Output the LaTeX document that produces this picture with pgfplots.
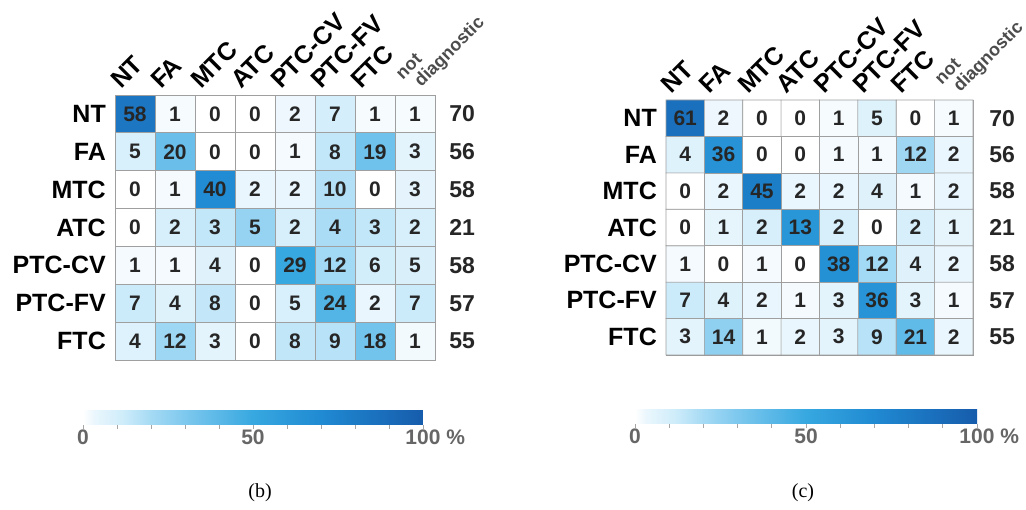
\documentclass[border=0pt]{standalone}
\usepackage{fontspec}
\setmainfont{Liberation Sans}
\newfontfamily\capfont{Liberation Serif}
\usepackage{pgfplots}
\pgfplotsset{compat=1.18}
\usepackage{pgfplotstable}
\usetikzlibrary{calc}

% confusion matrices: x = predicted class, y = true class (0 = FTC ... 6 = NT), c = count, t = row total
\pgfplotstableread{
x y c t
0 0 4 55
1 0 12 55
2 0 3 55
3 0 0 55
4 0 8 55
5 0 9 55
6 0 18 55
7 0 1 55
0 1 7 57
1 1 4 57
2 1 8 57
3 1 0 57
4 1 5 57
5 1 24 57
6 1 2 57
7 1 7 57
0 2 1 58
1 2 1 58
2 2 4 58
3 2 0 58
4 2 29 58
5 2 12 58
6 2 6 58
7 2 5 58
0 3 0 21
1 3 2 21
2 3 3 21
3 3 5 21
4 3 2 21
5 3 4 21
6 3 3 21
7 3 2 21
0 4 0 58
1 4 1 58
2 4 40 58
3 4 2 58
4 4 2 58
5 4 10 58
6 4 0 58
7 4 3 58
0 5 5 56
1 5 20 56
2 5 0 56
3 5 0 56
4 5 1 56
5 5 8 56
6 5 19 56
7 5 3 56
0 6 58 70
1 6 1 70
2 6 0 70
3 6 0 70
4 6 2 70
5 6 7 70
6 6 1 70
7 6 1 70
}\matB

\pgfplotstableread{
x y c t
0 0 3 55
1 0 14 55
2 0 1 55
3 0 2 55
4 0 3 55
5 0 9 55
6 0 21 55
7 0 2 55
0 1 7 57
1 1 4 57
2 1 2 57
3 1 1 57
4 1 3 57
5 1 36 57
6 1 3 57
7 1 1 57
0 2 1 58
1 2 0 58
2 2 1 58
3 2 0 58
4 2 38 58
5 2 12 58
6 2 4 58
7 2 2 58
0 3 0 21
1 3 1 21
2 3 2 21
3 3 13 21
4 3 2 21
5 3 0 21
6 3 2 21
7 3 1 21
0 4 0 58
1 4 2 58
2 4 45 58
3 4 2 58
4 4 2 58
5 4 4 58
6 4 1 58
7 4 2 58
0 5 4 56
1 5 36 56
2 5 0 56
3 5 0 56
4 5 1 56
5 5 1 56
6 5 12 56
7 5 2 56
0 6 61 70
1 6 2 70
2 6 0 70
3 6 0 70
4 6 1 70
5 6 5 70
6 6 0 70
7 6 1 70
}\matC

% row totals (same for both matrices)
\pgfplotstableread{
y c
0 55
1 57
2 58
3 21
4 58
5 56
6 70
}\rowtot

\newcommand\notdiag{\hspace{8pt}\raisebox{-12.7pt}{\bfseries\fontsize{18}{17}\selectfont\color{black!70}%
  \begin{tabular}[b]{@{}l@{}}not\\\hspace{8pt}diagnostic\end{tabular}}}

\pgfplotsset{
  confmat/.style={
    colormap={bluecm}{rgb255(0pt)=(255,255,255) rgb255(3pt)=(236,247,253) rgb255(12pt)=(205,236,250)
      rgb255(20pt)=(165,218,244) rgb255(30pt)=(125,200,238) rgb255(50pt)=(55,168,224)
      rgb255(70pt)=(32,138,210) rgb255(100pt)=(22,92,172)},
    point meta min=0, point meta max=100,
    anchor=south west, scale only axis,
    xmin=-0.5, xmax=7.5, ymin=-0.5, ymax=6.5,
    axis line style={draw=gray!80, line width=0.7pt},
    major tick length=0pt,
    xtick={0,...,7}, ytick={0,...,6},
    xticklabel pos=right,
    xticklabels={NT,FA,MTC,ATC,PTC-CV,PTC-FV,FTC,{\notdiag}},
    yticklabels={FTC,PTC-FV,PTC-CV,ATC,MTC,FA,NT},
    xticklabel style={xshift=-14pt, yshift=5pt, rotate=45, anchor=base west, inner sep=0pt,
      font=\bfseries\fontsize{25}{25}\selectfont},
    yticklabel style={anchor=east, inner sep=0pt, xshift=-9pt,
      font=\bfseries\fontsize{25}{25}\selectfont},
    clip=false,
    colorbar horizontal,
    every colorbar/.append style={
      scale only axis,
      xtick={0,50,100},
      xticklabels={0,50,{100\rlap{~\%}}},
      minor xtick={10,20,...,90},
      axis line style={draw=none},
      tick style={draw=gray!70, line width=0.8pt},
      major tick length=4pt, minor tick length=4pt,
      tick align=outside,
      xtick pos=lower, xticklabel pos=lower,
      xticklabel style={anchor=north, inner sep=0pt, yshift=-1pt,
        font=\bfseries\fontsize{21}{21}\selectfont, text=black!60},
    },
  },
  cellplot/.style={
    matrix plot*, mesh/cols=8,
    draw=gray!75, line width=0.7pt,
    point meta={\thisrow{c}/\thisrow{t}*100},
    visualization depends on={\thisrow{c} \as \cnt},
    nodes near coords={\pgfmathprintnumber[assume math mode=true]{\cnt}},
    every node near coord/.append style={anchor=center, inner sep=0pt, text=black!85,
      font=\bfseries\fontsize{21}{21}\selectfont},
  },
  totplot/.style={
    draw=none, nodes near coords, point meta=explicit symbolic,
    every node near coord/.append style={anchor=center, inner sep=0pt, text=black!85,
      font=\bfseries\fontsize{23}{23}\selectfont},
  },
}

\begin{document}
\begin{tikzpicture}
\path[use as bounding box] (0pt,0pt) rectangle (1026pt,510pt);

% (b)
\begin{axis}[confmat, at={(115pt,150pt)}, width=320pt, height=265pt,
  colorbar style={at={($(parent axis.south west)+(-32pt,-56pt)$)}, anchor=south west,
    width=340pt, height=15pt}]
  \addplot[totplot] table[x expr=8.18, y=y, meta=c] {\rowtot};
  \addplot[cellplot] table[x=x, y=y] {\matB};
\end{axis}

% (c)
\begin{axis}[confmat, at={(666pt,155pt)}, width=307pt, height=255pt,
  colorbar style={at={($(parent axis.south west)+(-31pt,-60pt)$)}, anchor=south west,
    width=342pt, height=14pt}]
  \addplot[totplot] table[x expr=8.26, y=y, meta=c] {\rowtot};
  \addplot[cellplot] table[x=x, y=y] {\matC};
\end{axis}

\node[font=\capfont\fontsize{20}{20}\selectfont] at (260pt,17pt) {(b)};
\node[font=\capfont\fontsize{20}{20}\selectfont] at (803pt,17pt) {(c)};
\end{tikzpicture}
\end{document}
